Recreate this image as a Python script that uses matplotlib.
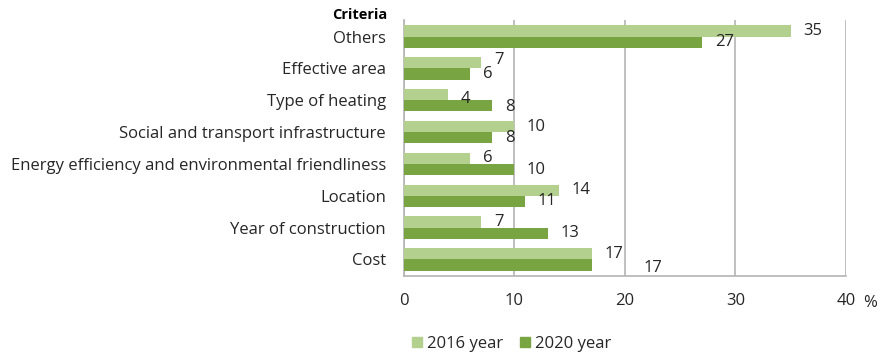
import matplotlib
matplotlib.use('Agg')
import matplotlib.pyplot as plt
from matplotlib.patches import Patch
import numpy as np

plt.rcParams['font.family'] = ['Open Sans', 'DejaVu Sans']
plt.rcParams['font.size'] = 12

# categories from bottom to top
criteria = ['Cost', 'Year of construction', 'Location',
            'Energy efficiency and environmental friendliness',
            'Social and transport infrastructure', 'Type of heating',
            'Effective area', 'Others']
share_2016 = [17, 7, 14, 6, 10, 4, 7, 35]
share_2020 = [17, 13, 11, 10, 8, 8, 6, 27]
x_ticks = [0, 10, 20, 30, 40]

light = '#b3d08f'
dark = '#79a442'
grid_col = '#b4b4b4'
txt_col = '#262626'

# small nudges (points) for labels that sit off the usual spot
nudge_2016 = [(0, 0), (0, 0), (0, 0), (0, 0), (0, 0), (0, -3), (0, 2), (0, 0)]
nudge_2020 = [(28, -2), (0, 0), (0, 0), (0, 0), (0, 0), (0, -1), (0, 0), (0, 0)]

fig = plt.figure(figsize=(8.82, 3.56), dpi=100)
ax = fig.add_axes([0.458, 0.2247, 0.501, 0.719])

y = np.arange(len(criteria))
h = 0.35
ax.barh(y + h / 2, share_2016, height=h, color=light, zorder=3)
ax.barh(y - h / 2, share_2020, height=h, color=dark, zorder=3)

for i in range(len(criteria)):
    for val, yy, nd in ((share_2016[i], y[i] + h / 2, nudge_2016[i]),
                        (share_2020[i], y[i] - h / 2, nudge_2020[i])):
        ax.annotate(str(val), (val, yy), xytext=(9 + nd[0], nd[1]),
                    textcoords='offset points', ha='left', va='center',
                    color=txt_col, zorder=4)

ax.set_xlim(0, 40)
ax.set_ylim(-0.52, 7.52)
ax.set_xticks(x_ticks)
ax.set_yticks(y)
ax.set_yticklabels(criteria)
ax.tick_params(axis='y', length=0, pad=13, colors=txt_col)
ax.tick_params(axis='x', length=0, pad=12, colors=txt_col)
ax.xaxis.grid(True, color=grid_col, linewidth=1.2, zorder=0)
for s in ['top', 'right']:
    ax.spines[s].set_visible(False)
for s in ['left', 'bottom']:
    ax.spines[s].set_color(grid_col)
    ax.spines[s].set_linewidth(1.2)

fig.text(387 / 882, 1 - 15 / 356, 'Criteria', ha='right', va='center',
         fontweight='bold', fontsize=10.5, color='black')
fig.text(870 / 882, 1 - 303 / 356, '%', ha='center', va='center', color=txt_col)

handles = [Patch(color=light), Patch(color=dark)]
fig.legend(handles, ['2016 year', '2020 year'], loc='center',
           bbox_to_anchor=(0.5805, 1 - 344 / 356), ncol=2, frameon=False,
           handlelength=0.6, handleheight=0.6, handletextpad=0.3,
           columnspacing=1.0, labelcolor=txt_col)

fig.savefig('out.png', dpi=100)
